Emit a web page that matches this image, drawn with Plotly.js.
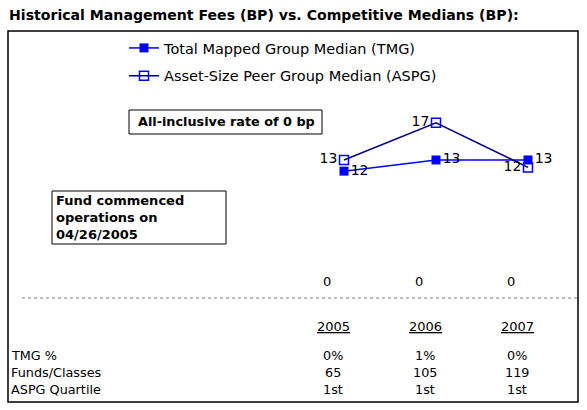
<!DOCTYPE html>
<html>
<head>
<meta charset="utf-8">
<script src="https://cdn.plot.ly/plotly-3.0.1.min.js"></script>
<style>html,body{margin:0;padding:0;background:#fff;}#chart{width:587px;height:410px;}</style>
</head>
<body>
<div id="chart"></div>
<script>
// ---- data ----
var years = ['2005', '2006', '2007'];
var tmgValues = [11.8, 13, 13];
var tmgLabels = ['12', '13', '13'];
var aspgValues = [13, 17, 12.2];
var aspgLabels = ['13', '17', '12'];
var allInclusive = [0, 0, 0];
var tmgPct = ['0%', '1%', '0%'];
var fundsClasses = ['65', '105', '119'];
var aspgQuartile = ['1st', '1st', '1st'];
var rowLabels = ['TMG %', 'Funds/Classes', 'ASPG Quartile'];
var seriesNames = ['Total Mapped Group Median (TMG)', 'Asset-Size Peer Group Median (ASPG)'];

var W = 587, H = 410;
function px(x){ return x / W; }
function py(y){ return 1 - y / H; }
var idx = years.map(function(_, i){ return i; });

var FONT = 'DejaVu Sans, Verdana, sans-serif';

var traces = [
  {
    x: idx, y: tmgValues, name: seriesNames[0], legendgroup: 'a',
    mode: 'lines+markers+text', text: tmgLabels, textposition: 'middle right',
    textfont: {family: FONT, size: 14, color: '#000'},
    line: {color: '#0000FF', width: 1.5},
    marker: {symbol: 'square', size: 9, color: '#0000FF'},
    cliponaxis: false
  },
  {
    x: idx, y: aspgValues, name: seriesNames[1], legendgroup: 'b',
    mode: 'lines+markers+text', text: aspgLabels, textposition: 'middle left',
    textfont: {family: FONT, size: 14, color: '#000'},
    line: {color: '#000080', width: 1.5},
    marker: {symbol: 'square-open', size: 9, color: '#0000FF', line: {width: 1.5}},
    cliponaxis: false
  }
];

var annotations = [];
// zero row (all-inclusive rate)
idx.forEach(function(i){
  annotations.push({x: i, y: allInclusive[i], xref: 'x', yref: 'y', text: String(allInclusive[i]),
    xanchor: 'center', yanchor: 'middle',
    showarrow: false, xshift: -17, font: {family: FONT, size: 13, color: '#000'}});
});
// year labels
idx.forEach(function(i){
  annotations.push({x: i, y: py(326), xref: 'x', yref: 'paper', text: '<u>' + years[i] + '</u>',
    xanchor: 'center', yanchor: 'middle',
    showarrow: false, xshift: -11, font: {family: FONT, size: 13, color: '#000'}});
});
var rows = [tmgPct, fundsClasses, aspgQuartile];
var rowY = [355, 372, 389];
rows.forEach(function(r, k){
  annotations.push({x: px(9), y: py(rowY[k]), xref: 'paper', yref: 'paper', xanchor: 'left', yanchor: 'middle',
    text: rowLabels[k], showarrow: false, font: {family: FONT, size: 12.8, color: '#000'}});
  idx.forEach(function(i){
    annotations.push({x: i, y: py(rowY[k]), xref: 'x', yref: 'paper', text: r[i],
      xanchor: 'center', yanchor: 'middle',
      showarrow: false, xshift: -11, font: {family: FONT, size: 12.8, color: '#000'}});
  });
});
// boxes
annotations.push({x: px(226), y: py(121), xref: 'paper', yref: 'paper', xanchor: 'center', yanchor: 'middle',
  text: '<b>All-inclusive rate of 0 bp</b>',
  showarrow: false, font: {family: FONT, size: 12.8, color: '#000'}});
annotations.push({x: px(54), y: py(217), xref: 'paper', yref: 'paper', xanchor: 'left', yanchor: 'middle', align: 'left',
  text: '<b>Fund commenced<br>operations on<br>04/26/2005</b>',
  showarrow: false, font: {family: FONT, size: 13, color: '#000'}});

var shapes = [
  {type: 'rect', xref: 'paper', yref: 'paper', x0: px(8), x1: px(578), y0: py(402), y1: py(31),
    line: {color: '#000', width: 1.5}},
  {type: 'line', xref: 'paper', yref: 'paper', x0: px(22), x1: px(577), y0: py(298), y1: py(298),
    line: {color: '#808080', width: 1, dash: 'dot'}},
  {type: 'rect', xref: 'paper', yref: 'paper', x0: px(129), x1: px(322), y0: py(134), y1: py(110),
    line: {color: '#000', width: 1}},
  {type: 'rect', xref: 'paper', yref: 'paper', x0: px(52), x1: px(226), y0: py(244), y1: py(191),
    line: {color: '#000', width: 1}}
];

// axis ranges: x index 0 -> 344px, spacing 92px; y 0 -> 281px, 9.31 px/unit
var xs = 92, x0 = -344 / xs;
var ys = 9.31, y1 = 281 / ys;
var layout = {
  width: W, height: H,
  margin: {l: 0, r: 0, t: 0, b: 0},
  paper_bgcolor: '#fff', plot_bgcolor: '#fff',
  title: {text: '<b>Historical Management Fees (BP) vs. Competitive Medians (BP):</b>',
    x: px(9), xanchor: 'left', xref: 'paper', y: py(15), yanchor: 'middle', yref: 'paper',
    font: {family: FONT, size: 14.1, color: '#000'}},
  xaxis: {range: [x0, x0 + W / xs], visible: false, fixedrange: true},
  yaxis: {range: [y1 - H / ys, y1], visible: false, fixedrange: true},
  showlegend: true,
  legend: {x: px(124), y: py(32), xanchor: 'left', yanchor: 'top', traceorder: 'grouped',
    tracegroupgap: 6, bgcolor: 'rgba(0,0,0,0)', font: {family: FONT, size: 14.5, color: '#000'}},
  annotations: annotations,
  shapes: shapes
};

Plotly.newPlot('chart', traces, layout, {staticPlot: true, displayModeBar: false});
</script>
</body>
</html>
